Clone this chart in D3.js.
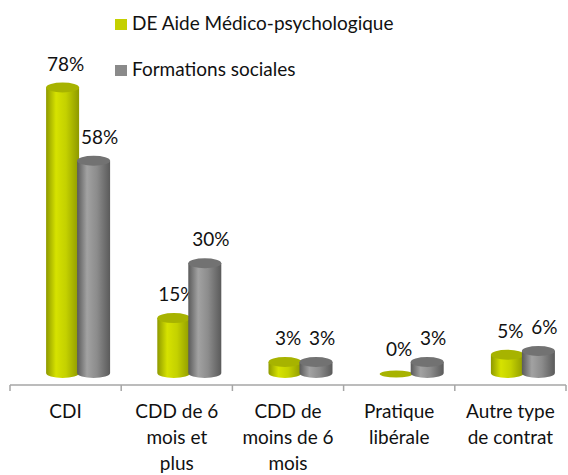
<!DOCTYPE html>
<html>
<head>
<meta charset="utf-8">
<script src="https://cdn.jsdelivr.net/npm/d3@7"></script>
<style>
  html, body { margin: 0; padding: 0; background: #fff; }
  svg { display: block; font-family: Lato, "Open Sans", "Liberation Sans", sans-serif; }
</style>
</head>
<body>
<svg id="chart" width="568" height="475"></svg>
<script>
/* ── Data ─────────────────────────────────────────────── */
const categories = ["CDI", "CDD 6+", "CDD -6", "Libérale", "Autre"];
const categoryLines = [
  ["CDI"],
  ["CDD de 6", "mois et", "plus"],
  ["CDD de", "moins de 6", "mois"],
  ["Pratique", "libérale"],
  ["Autre type", "de contrat"]
];
const seriesNames = ["DE Aide Médico-psychologique", "Formations sociales"];
const ampValues = [78, 15, 3, 0, 5];
const socialValues = [58, 30, 3, 3, 6];

/* ── Look ─────────────────────────────────────────────── */
const SERIES = [
  { values: ampValues,    light: "#d6e200", mid: "#c4d100", dark: "#8e9900", top: "#a7b300", swatch: "#c4d000", dx: -19.5, ldx: 3 },
  { values: socialValues, light: "#a2a2a2", mid: "#8c8c8c", dark: "#5a5a5a", top: "#727272", swatch: "#8a8a8a", dx: 11.5,  ldx: 6 }
];
const BAR_W = 33, RY = 5, FONT = 19;

const svg = d3.select("#chart");
const x = d3.scaleBand().domain(categories).range([10, 566]);
const y = d3.scaleLinear().domain([0, 100]).range([373, 7]);

/* gradients for the cylinder sides */
const defs = svg.append("defs");
SERIES.forEach((s, i) => {
  const g = defs.append("linearGradient").attr("id", "cyl" + i)
    .attr("x1", 0).attr("x2", 1).attr("y1", 0).attr("y2", 0);
  g.append("stop").attr("offset", "0%").attr("stop-color", s.dark);
  g.append("stop").attr("offset", "30%").attr("stop-color", s.light);
  g.append("stop").attr("offset", "60%").attr("stop-color", s.mid);
  g.append("stop").attr("offset", "100%").attr("stop-color", s.dark);
});

/* ── Bars (cylinders) ─────────────────────────────────── */
SERIES.forEach((s, i) => {
  const bars = svg.append("g").selectAll("g")
    .data(categories.map((c, k) => ({ c, v: s.values[k] })))
    .enter().append("g");

  bars.each(function (d) {
    const g = d3.select(this);
    const cx = x(d.c) + x.bandwidth() / 2 + s.dx + BAR_W / 2;
    const rx = BAR_W / 2;
    const yt = y(d.v), yb = y(0);
    if (d.v > 0) {
      g.append("path")
        .attr("d", `M${cx - rx},${yt} L${cx - rx},${yb} A${rx},${RY} 0 0 0 ${cx + rx},${yb} L${cx + rx},${yt} Z`)
        .attr("fill", `url(#cyl${i})`);
      g.append("ellipse")
        .attr("cx", cx).attr("cy", yt).attr("rx", rx).attr("ry", RY)
        .attr("fill", s.top);
    } else {
      g.append("ellipse")
        .attr("cx", cx).attr("cy", yb + 1).attr("rx", rx).attr("ry", 3.5)
        .attr("fill", s.top);
    }
    g.append("text")
      .attr("x", cx + s.ldx).attr("y", yt - 17)
      .attr("text-anchor", "middle")
      .attr("font-size", FONT).attr("fill", "#111")
      .text(d.v + "%");
  });
});

/* ── Axis ─────────────────────────────────────────────── */
const axisY = 385;
const axis = svg.append("g").attr("stroke", "#a6a6a6").attr("stroke-width", 1.5);
axis.append("line").attr("x1", x.range()[0]).attr("x2", x.range()[1])
  .attr("y1", axisY).attr("y2", axisY);
const edges = categories.map(c => x(c)).concat([x.range()[1]]);
axis.selectAll("line.tick").data(edges).enter().append("line")
  .attr("class", "tick")
  .attr("x1", d => d).attr("x2", d => d)
  .attr("y1", axisY).attr("y2", axisY + 6);

const labels = svg.append("g").selectAll("text")
  .data(categories.map((c, k) => ({ c, lines: categoryLines[k] })))
  .enter().append("text")
  .attr("text-anchor", "middle")
  .attr("font-size", FONT).attr("fill", "#111");
labels.each(function (d) {
  d3.select(this).selectAll("tspan").data(d.lines).enter().append("tspan")
    .attr("x", x(d.c) + x.bandwidth() / 2)
    .attr("y", (l, j) => 418 + j * 26)
    .text(l => l);
});

/* ── Legend ───────────────────────────────────────────── */
const legend = svg.append("g").selectAll("g")
  .data(seriesNames).enter().append("g")
  .attr("transform", (d, i) => `translate(115, ${19 + i * 46})`);
legend.append("rect").attr("width", 12).attr("height", 11)
  .attr("fill", (d, i) => SERIES[i].swatch);
legend.append("text").attr("x", 17).attr("y", 11)
  .attr("font-size", FONT).attr("fill", "#111")
  .text(d => d);
</script>
</body>
</html>
